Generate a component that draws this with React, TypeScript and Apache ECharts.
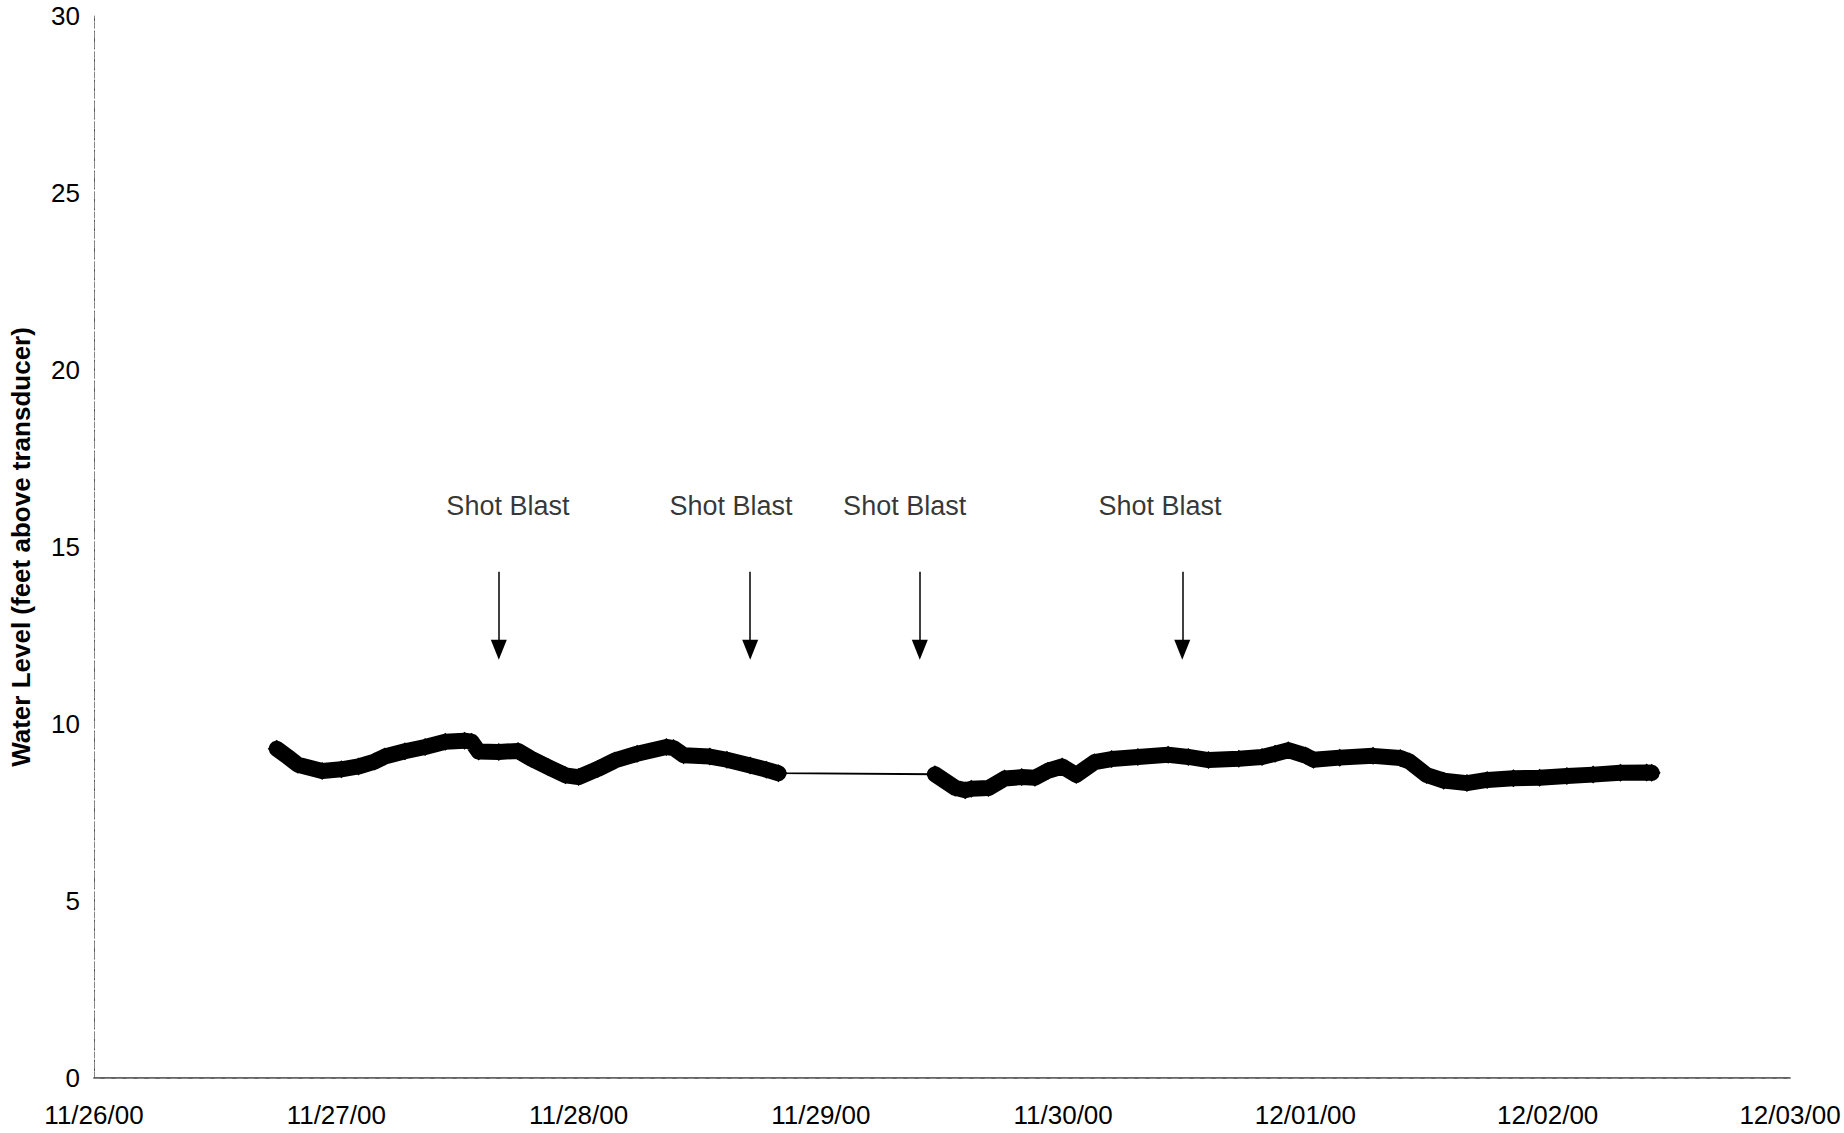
import React, { useEffect, useRef } from "react";
import * as echarts from "echarts";

// x tick labels, one per day from 11/26/00 00:00
const tickLabels = ["11/26/00", "11/27/00", "11/28/00", "11/29/00", "11/30/00", "12/01/00", "12/02/00", "12/03/00"];

// hours since 11/26/00 00:00
const hoursSinceStart = [
  18.1, 19.2, 20.2, 22.6, 24.5, 26.2, 27.8, 28.8, 30.8, 32.8, 34.8, 36.7, 37.4, 38.1, 40.1, 42.0, 43.3, 45.0, 46.7, 48.0,
  49.9, 51.6, 53.8, 56.7, 57.4, 58.4, 61.0, 62.7, 65.0, 66.6, 67.8,
  83.3, 85.3, 86.3, 86.9, 88.6, 90.2, 91.9, 93.2, 94.5, 95.9, 97.3, 99.1, 100.8, 103.4, 106.4, 108.4, 110.4, 113.4, 115.7,
  117.0, 118.3, 120.0, 120.8, 123.4, 126.7, 129.4, 130.3, 132.0, 133.7, 136.0, 138.0, 140.6, 143.2, 145.9, 148.5, 151.2,
  153.8, 154.3,
];

// water level, feet above transducer
const waterLevel = [
  9.30, 9.07, 8.85, 8.67, 8.72, 8.80, 8.94, 9.08, 9.23, 9.35, 9.50, 9.53, 9.50, 9.22, 9.21, 9.24, 9.02, 8.78, 8.55, 8.50,
  8.73, 8.97, 9.16, 9.35, 9.32, 9.12, 9.08, 8.99, 8.83, 8.71, 8.61,
  8.58, 8.20, 8.13, 8.17, 8.19, 8.46, 8.50, 8.48, 8.68, 8.80, 8.56, 8.92, 9.01, 9.07, 9.13, 9.07, 8.98, 9.02, 9.07,
  9.16, 9.26, 9.11, 8.99, 9.05, 9.10, 9.04, 8.94, 8.56, 8.40, 8.33, 8.42, 8.47, 8.48, 8.53, 8.57, 8.62,
  8.63, 8.62,
];

// "Shot Blast" annotations
const blastArrowHours = [40.1, 65.0, 81.8, 107.8];
const blastLabelHours = [41.0, 63.1, 80.3, 105.6];
const blastLabel = "Shot Blast";
const arrowTopLevel = 14.3;
const arrowEndLevel = 12.1;
const labelLevel = 16.15;

const FONT = "'Liberation Sans', Arial, sans-serif";

export default function App() {
  const ref = useRef<HTMLDivElement>(null);

  useEffect(() => {
    if (!ref.current) return;
    const chart = echarts.init(ref.current, null, { renderer: "svg" });

    const points = hoursSinceStart.map((h, i) => [h, waterLevel[i]]);
    // thick band is broken where readings are missing
    const thick: any[] = [];
    points.forEach((p, i) => {
      if (i > 0 && p[0] - points[i - 1][0] > 6) {
        thick.push([(p[0] + points[i - 1][0]) / 2, "-"]);
      }
      thick.push(p);
    });

    const option: any = {
      animation: false,
      backgroundColor: "#fff",
      grid: { left: 94, right: 54, top: 16, bottom: 55, containLabel: false },
      xAxis: [
        {
          type: "value",
          min: 0,
          max: 168,
          interval: 24,
          axisLine: { show: true, lineStyle: { color: "#333", width: 1.5 } },
          axisTick: { show: false },
          splitLine: { show: false },
          axisLabel: {
            show: true,
            margin: 24,
            fontSize: 26,
            color: "#000",
            fontFamily: FONT,
            showMinLabel: true,
            showMaxLabel: true,
            formatter: (v: number) => tickLabels[Math.round(v / 24)] ?? "",
          },
        },
        {
          type: "value",
          position: "top",
          min: 0,
          max: 168,
          axisLine: { show: true, lineStyle: { color: "#888", width: 1, type: [6, 5] } },
          axisTick: { show: false },
          axisLabel: { show: false },
          splitLine: { show: false },
        },
      ],
      yAxis: [
        {
          type: "value",
          min: 0,
          max: 30,
          interval: 5,
          name: "Water Level (feet above transducer)",
          nameLocation: "middle",
          nameGap: 60,
          nameTextStyle: { fontSize: 26, fontWeight: "bold", color: "#000", fontFamily: FONT },
          axisLine: { show: true, lineStyle: { color: "#555", width: 1, type: [4, 3] } },
          axisTick: { show: false },
          splitLine: { show: false },
          axisLabel: { margin: 14, fontSize: 26, color: "#000", fontFamily: FONT },
        },
        {
          type: "value",
          position: "right",
          min: 0,
          max: 30,
          axisLine: { show: true, lineStyle: { color: "#888", width: 1, type: [6, 4] } },
          axisTick: { show: false },
          axisLabel: { show: false },
          splitLine: { show: false },
        },
      ],
      series: [
        {
          name: "Water Level thin",
          type: "line",
          data: points,
          symbol: "none",
          lineStyle: { color: "#000", width: 1.8 },
          z: 2,
          silent: true,
          markLine: {
            silent: true,
            symbol: ["none", "triangle"],
            symbolSize: [16, 20],
            label: { show: false },
            lineStyle: { color: "#000", width: 1.5, type: "solid" },
            data: blastArrowHours.map((h) => [
              { coord: [h, arrowTopLevel] },
              { coord: [h, arrowEndLevel] },
            ]),
          },
        },
        {
          name: "Water Level",
          type: "line",
          data: thick,
          connectNulls: false,
          symbol: "diamond",
          symbolSize: 18,
          showAllSymbol: true,
          itemStyle: { color: "#000" },
          lineStyle: { color: "#000", width: 16, join: "round", cap: "round" },
          z: 3,
          silent: true,
        },
        {
          name: "Annotations",
          type: "scatter",
          symbolSize: 0,
          silent: true,
          data: blastLabelHours.map((h) => [h, labelLevel]),
          label: {
            show: true,
            position: "inside",
            formatter: () => blastLabel,
            fontSize: 27,
            color: "#000",
            fontFamily: FONT,
          },
        },
      ],
    };

    chart.setOption(option);
    return () => chart.dispose();
  }, []);

  return (
    <div
      ref={ref}
      style={{ position: "fixed", left: 0, top: 0, width: 1844, height: 1133, background: "#fff" }}
    />
  );
}
